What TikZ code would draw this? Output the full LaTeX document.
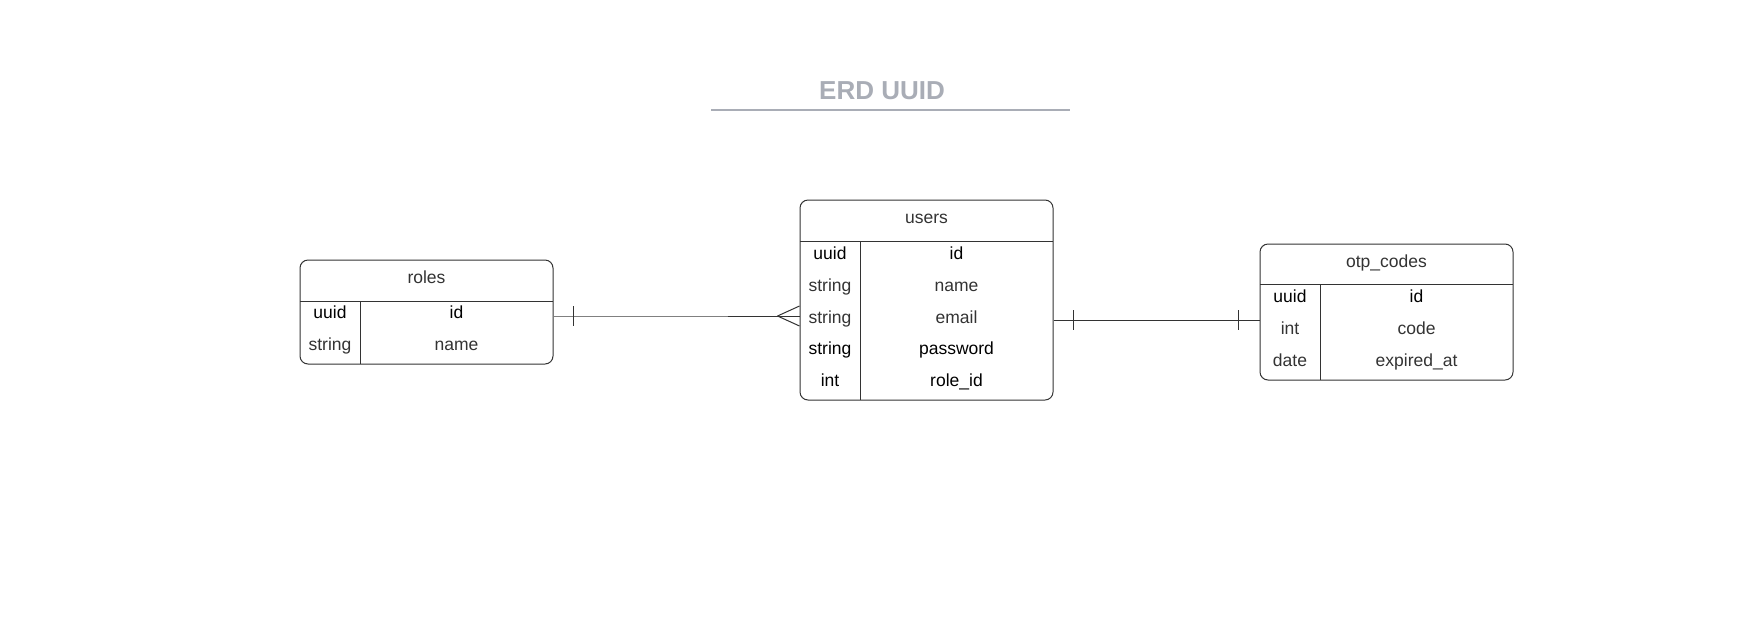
\documentclass[tikz,border=0pt]{standalone}
\usepackage{fontspec}
\setmainfont{Liberation Sans}
\usepackage{tikz}

\definecolor{titlegray}{HTML}{A9ADB6}
\definecolor{linegray}{HTML}{333333}
\definecolor{textgray}{HTML}{333333}

\begin{document}
\begin{tikzpicture}[x=1pt,y=-1pt,
        entity/.style={draw=linegray, line width=1pt, rounded corners=8pt, minimum width=253pt, inner sep=0pt},
        cell/.style={anchor=base, font=\fontsize{17.5}{20}\selectfont, text=#1},
        cell/.default=black,
        rel/.style={draw=linegray, line width=1pt}]

        \useasboundingbox (0,0) rectangle (1760,630);

        \node[anchor=base, text=titlegray, font=\fontsize{26}{30}\selectfont\bfseries] (title) at (882,99) {ERD UUID};
        \draw[titlegray, line width=1.3pt] (711,110) -- (1070,110);

        % roles
        \node[entity, minimum height=104pt] (roles) at (426.5,312) {};
        \draw[linegray] (300,301) -- (553,301);
        \draw[linegray] (360,301) -- (360,364);
        \node[cell=textgray] (roles-h) at (426.5,283) {roles};
        \foreach \t/\f/\c [count=\i] in {uuid/id/black, string/name/textgray} {
            \node[cell=\c] (roles-t\i) at (330,{286.5+32*\i}) {\t};
            \node[cell=\c] (roles-f\i) at (456.5,{286.5+32*\i}) {\f};
        }

        % users
        \node[entity, minimum height=200pt] (users) at (926.5,300) {};
        \draw[linegray] (800,241) -- (1053,241);
        \draw[linegray] (860,241) -- (860,400);
        \node[cell=textgray] (users-h) at (926.5,223) {users};
        \foreach \t/\f/\c [count=\i] in {uuid/id/black, string/name/textgray, string/email/textgray, string/password/black, int/role\_id/black} {
            \node[cell=\c] (users-t\i) at (830,{227.6+31.8*\i}) {\t};
            \node[cell=\c] (users-f\i) at (956.5,{227.6+31.8*\i}) {\f};
        }

        % otp_codes
        \node[entity, minimum height=136pt] (otpcodes) at (1386.5,312) {};
        \draw[linegray] (1260,284) -- (1513,284);
        \draw[linegray] (1320,284) -- (1320,380);
        \node[cell=textgray] (otpcodes-h) at (1386.5,267) {otp\_codes};
        \foreach \t/\f/\c [count=\i] in {uuid/id/black, int/code/textgray, date/expired\_at/textgray} {
            \node[cell=\c] (otpcodes-t\i) at (1290,{270.5+32*\i}) {\t};
            \node[cell=\c] (otpcodes-f\i) at (1416.5,{270.5+32*\i}) {\f};
        }

        % roles -< users
        \coordinate (re) at ([yshift=-4pt]roles.east);
        \coordinate (uw) at (re -| users.west);
        \draw[rel, draw=gray] (re) -- (uw);
        \draw[rel] ([xshift=20pt]re) ++(0,-10) -- ++(0,20);
        \draw[rel] ([xshift=-72pt]uw) -- (uw);
        \draw[rel] ([xshift=-22pt]uw) -- ([yshift=10pt]uw);
        \draw[rel] ([xshift=-22pt]uw) -- ([yshift=-10pt]uw);

        % users -- otp_codes
        \coordinate (ue) at ([yshift=-20pt]users.east);
        \coordinate (ow) at (ue -| otpcodes.west);
        \draw[rel] (ue) -- (ow);
        \draw[rel] ([xshift=20pt]ue) ++(0,-10) -- ++(0,20);
        \draw[rel] ([xshift=-21pt]ow) ++(0,-10) -- ++(0,20);

    \end{tikzpicture}
\end{document}
